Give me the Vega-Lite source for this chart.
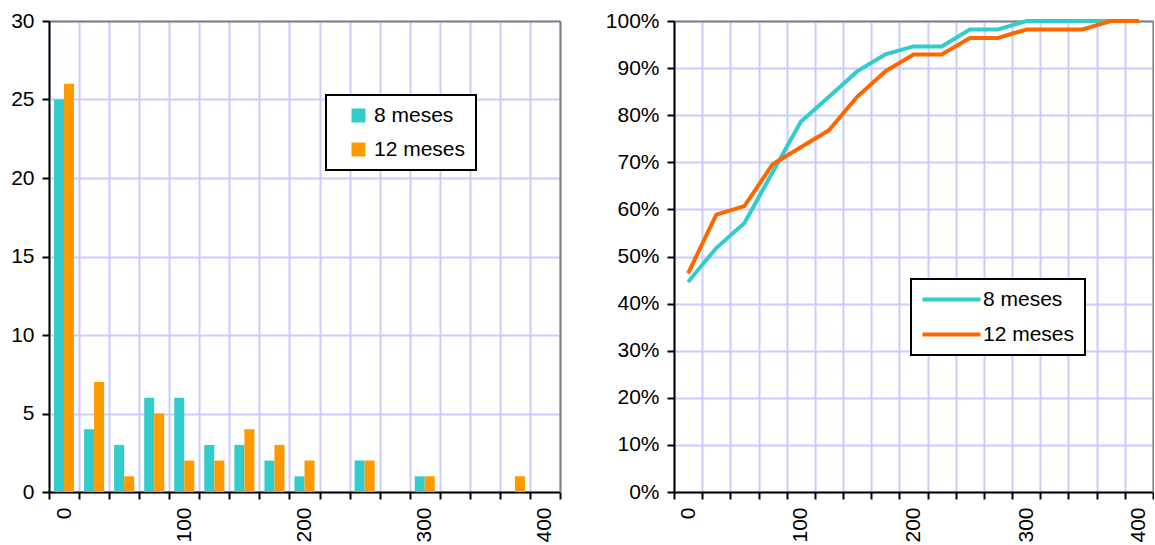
{
  "$schema": "https://vega.github.io/schema/vega-lite/v6.json",
  "background": "white",
  "padding": {"left": 10, "top": 10, "right": 0, "bottom": 0},
  "spacing": 44,
  "config": {
    "font": "Liberation Sans",
    "view": {"stroke": null},
    "axis": {
      "title": null,
      "domainColor": "black",
      "domainWidth": 2,
      "tickColor": "black",
      "tickWidth": 2,
      "tickSize": 7,
      "labelFont": "Liberation Sans",
      "labelFontSize": 21,
      "labelColor": "black",
      "labelPadding": 8,
      "gridColor": "#ccccff",
      "gridWidth": 2,
      "gridOpacity": 1
    },
    "legend": {
      "orient": "none",
      "title": null,
      "labelFont": "Liberation Sans",
      "labelFontSize": 21,
      "labelColor": "black",
      "strokeColor": "black",
      "strokeWidth": 2,
      "fillColor": "white",
      "padding": 10
    }
  },
  "datasets": {
    "hist": [
      {"bin": 0, "serie": "8 meses", "n": 25}, {"bin": 0, "serie": "12 meses", "n": 26},
      {"bin": 25, "serie": "8 meses", "n": 4}, {"bin": 25, "serie": "12 meses", "n": 7},
      {"bin": 50, "serie": "8 meses", "n": 3}, {"bin": 50, "serie": "12 meses", "n": 1},
      {"bin": 75, "serie": "8 meses", "n": 6}, {"bin": 75, "serie": "12 meses", "n": 5},
      {"bin": 100, "serie": "8 meses", "n": 6}, {"bin": 100, "serie": "12 meses", "n": 2},
      {"bin": 125, "serie": "8 meses", "n": 3}, {"bin": 125, "serie": "12 meses", "n": 2},
      {"bin": 150, "serie": "8 meses", "n": 3}, {"bin": 150, "serie": "12 meses", "n": 4},
      {"bin": 175, "serie": "8 meses", "n": 2}, {"bin": 175, "serie": "12 meses", "n": 3},
      {"bin": 200, "serie": "8 meses", "n": 1}, {"bin": 200, "serie": "12 meses", "n": 2},
      {"bin": 225, "serie": "8 meses", "n": 0}, {"bin": 225, "serie": "12 meses", "n": 0},
      {"bin": 250, "serie": "8 meses", "n": 2}, {"bin": 250, "serie": "12 meses", "n": 2},
      {"bin": 275, "serie": "8 meses", "n": 0}, {"bin": 275, "serie": "12 meses", "n": 0},
      {"bin": 300, "serie": "8 meses", "n": 1}, {"bin": 300, "serie": "12 meses", "n": 1},
      {"bin": 325, "serie": "8 meses", "n": 0}, {"bin": 325, "serie": "12 meses", "n": 0},
      {"bin": 350, "serie": "8 meses", "n": 0}, {"bin": 350, "serie": "12 meses", "n": 0},
      {"bin": 375, "serie": "8 meses", "n": 0}, {"bin": 375, "serie": "12 meses", "n": 1},
      {"bin": 400, "serie": "8 meses", "n": 0}, {"bin": 400, "serie": "12 meses", "n": 0}
    ],
    "cum": [
      {"bin": 0, "serie": "8 meses", "pct": 0.446}, {"bin": 0, "serie": "12 meses", "pct": 0.464},
      {"bin": 25, "serie": "8 meses", "pct": 0.518}, {"bin": 25, "serie": "12 meses", "pct": 0.589},
      {"bin": 50, "serie": "8 meses", "pct": 0.571}, {"bin": 50, "serie": "12 meses", "pct": 0.607},
      {"bin": 75, "serie": "8 meses", "pct": 0.679}, {"bin": 75, "serie": "12 meses", "pct": 0.696},
      {"bin": 100, "serie": "8 meses", "pct": 0.786}, {"bin": 100, "serie": "12 meses", "pct": 0.732},
      {"bin": 125, "serie": "8 meses", "pct": 0.839}, {"bin": 125, "serie": "12 meses", "pct": 0.768},
      {"bin": 150, "serie": "8 meses", "pct": 0.893}, {"bin": 150, "serie": "12 meses", "pct": 0.839},
      {"bin": 175, "serie": "8 meses", "pct": 0.929}, {"bin": 175, "serie": "12 meses", "pct": 0.893},
      {"bin": 200, "serie": "8 meses", "pct": 0.946}, {"bin": 200, "serie": "12 meses", "pct": 0.929},
      {"bin": 225, "serie": "8 meses", "pct": 0.946}, {"bin": 225, "serie": "12 meses", "pct": 0.929},
      {"bin": 250, "serie": "8 meses", "pct": 0.982}, {"bin": 250, "serie": "12 meses", "pct": 0.964},
      {"bin": 275, "serie": "8 meses", "pct": 0.982}, {"bin": 275, "serie": "12 meses", "pct": 0.964},
      {"bin": 300, "serie": "8 meses", "pct": 1.0}, {"bin": 300, "serie": "12 meses", "pct": 0.982},
      {"bin": 325, "serie": "8 meses", "pct": 1.0}, {"bin": 325, "serie": "12 meses", "pct": 0.982},
      {"bin": 350, "serie": "8 meses", "pct": 1.0}, {"bin": 350, "serie": "12 meses", "pct": 0.982},
      {"bin": 375, "serie": "8 meses", "pct": 1.0}, {"bin": 375, "serie": "12 meses", "pct": 1.0},
      {"bin": 400, "serie": "8 meses", "pct": 1.0}, {"bin": 400, "serie": "12 meses", "pct": 1.0}
    ]
  },
  "resolve": {"scale": {"color": "independent", "x": "independent", "y": "independent"}, "legend": {"color": "independent"}},
  "hconcat": [
    {
      "width": 511,
      "height": 471,
      "data": {"name": "hist"},
      "resolve": {"axis": {"x": "independent", "y": "independent"}},
      "layer": [
        {
          "mark": {"type": "bar"},
          "encoding": {
            "x": {
              "field": "bin", "type": "ordinal",
              "scale": {"domain": [0,25,50,75,100,125,150,175,200,225,250,275,300,325,350,375,400], "paddingInner": 0, "paddingOuter": 0},
              "axis": {"labelAngle": 270, "tickBand": "extent", "grid": true, "labelExpr": "datum.value % 100 === 0 ? datum.label : ''"}
            },
            "xOffset": {
              "field": "serie", "type": "nominal",
              "scale": {"domain": ["8 meses", "12 meses"], "paddingInner": 0, "paddingOuter": 0.5}
            },
            "y": {
              "field": "n", "type": "quantitative",
              "scale": {"domain": [0, 30]},
              "axis": {"values": [0,5,10,15,20,25,30], "grid": true}
            },
            "color": {
              "field": "serie", "type": "nominal",
              "scale": {"domain": ["8 meses", "12 meses"], "range": ["#33cccc", "#ff9900"]},
              "legend": {
                "legendX": 277, "legendY": 74,
                "symbolType": "square", "symbolSize": 196, "symbolOffset": 12,
                "labelOffset": 5, "rowPadding": 12,
                "labelExpr": "datum.label + '  '"
              }
            }
          }
        },
        {
          "mark": {"type": "point", "opacity": 0},
          "encoding": {
            "x": {
              "field": "bin", "type": "ordinal",
              "axis": {"orient": "top", "labels": false, "ticks": false, "grid": false, "domainColor": "#808080", "domainWidth": 2}
            },
            "y": {
              "field": "n", "type": "quantitative",
              "axis": {"orient": "right", "labels": false, "ticks": false, "grid": false, "domainColor": "#808080", "domainWidth": 2}
            }
          }
        }
      ]
    },
    {
      "width": 479,
      "height": 471,
      "data": {"name": "cum"},
      "resolve": {"axis": {"x": "independent", "y": "independent"}},
      "layer": [
        {
          "mark": {"type": "line", "strokeWidth": 4},
          "encoding": {
            "x": {
              "field": "bin", "type": "ordinal",
              "scale": {"type": "band", "domain": [0,25,50,75,100,125,150,175,200,225,250,275,300,325,350,375,400], "paddingInner": 0, "paddingOuter": 0},
              "axis": {"labelAngle": 270, "tickBand": "extent", "grid": true, "labelExpr": "datum.value % 100 === 0 ? datum.label : ''"}
            },
            "y": {
              "field": "pct", "type": "quantitative",
              "scale": {"domain": [0, 1]},
              "axis": {"values": [0,0.1,0.2,0.3,0.4,0.5,0.6,0.7,0.8,0.9,1.0], "format": ".0%", "grid": true}
            },
            "color": {
              "field": "serie", "type": "nominal",
              "scale": {"domain": ["8 meses", "12 meses"], "range": ["#33cccc", "#ff6600"]},
              "legend": {
                "legendX": 237, "legendY": 258,
                "symbolType": "M-5,0H5", "symbolSize": 135, "symbolStrokeWidth": 4,
                "symbolOffset": 20, "labelOffset": 21, "rowPadding": 13
              }
            }
          }
        },
        {
          "mark": {"type": "point", "opacity": 0},
          "encoding": {
            "x": {
              "field": "bin", "type": "ordinal",
              "axis": {"orient": "top", "labels": false, "ticks": false, "grid": false, "domainColor": "#808080", "domainWidth": 2}
            },
            "y": {
              "field": "pct", "type": "quantitative",
              "axis": {"orient": "right", "labels": false, "ticks": false, "grid": false, "domainColor": "#808080", "domainWidth": 2}
            }
          }
        }
      ]
    }
  ]
}
